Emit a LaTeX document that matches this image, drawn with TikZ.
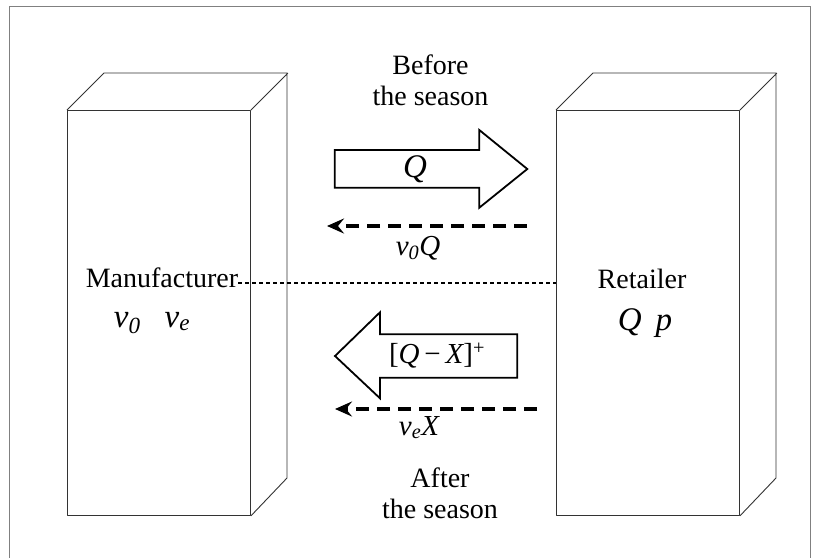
\documentclass[tikz,border=0pt]{standalone}
\usepackage{fontspec}
\setmainfont{Liberation Serif}
\usetikzlibrary{arrows.meta}
\begin{document}
\begin{tikzpicture}[x=1pt,y=-1pt,
  box/.style={draw=black!80,line width=0.9pt,line join=round},
  face/.style={box,minimum width=183,minimum height=405,anchor=north west,inner sep=0pt},
  bigarrow/.style={draw,line width=1.8pt,fill=white,line join=miter},
  payflow/.style={line width=4pt,dash pattern=on 13pt off 8pt,-{Stealth[length=17pt,width=15pt,inset=6pt]}},
  lab/.style={font=\fontsize{28}{31}\selectfont,inner sep=0pt},
  var/.style={font=\fontsize{33}{36}\selectfont\itshape,inner sep=0pt},
  flowlab/.style={font=\fontsize{29}{32}\selectfont\itshape,inner sep=0pt}]
\useasboundingbox (0,0) rectangle (821,558);
\draw[gray,line width=1pt] (9.5,558) -- (9.5,6) -- (810.5,6) -- (810.5,558);
% the two firms
\node[face] (manbox) at (67,110) {};
\node[face] (retbox) at (556,110) {};
\foreach \b in {manbox,retbox}{
  \draw[box] (\b.north west) -- ++(37,-37) -- ++(183,0) -- ++(0,405) -- (\b.south east) (\b.north east) -- ++(37,-37);}
\node[lab,anchor=base] (mfr) at (162,287) {Manufacturer};
\node[var,anchor=base] (mvars) at (152,327) {v\textsubscript{0}\hspace{24pt}v\textsubscript{e}};
\node[lab,anchor=base] (ret) at (642,288) {Retailer};
\node[var,anchor=base] (rvars) at (645,330) {Q\hspace{14pt}p};
\draw[line width=1.4pt,dash pattern=on 4pt off 3pt] ([yshift=4pt]mfr.base east) -- ([yshift=4pt]mfr.base east -| retbox.west);
% before the season
\node[lab,align=center,anchor=base] (before) at (430.5,105.5) {Before\\the season};
\draw[bigarrow] (334.7,150) -- (479.3,150) -- (479.3,130) -- (527.3,169) -- (479.3,207.7) -- (479.3,187.7) -- (334.7,187.7) -- cycle;
\node[var] (qflow) at (415,169) {Q};
\coordinate (payA) at (527,226); \coordinate (payB) at (327,226);
\draw[payflow] (payA) -- (payB);
\node[flowlab,anchor=base] (pay0) at (418,255) {v\textsubscript{0}Q};
% after the season
\draw[bigarrow] (335,356) -- (380,312.3) -- (380,334.3) -- (517.3,334.3) -- (517.3,377.7) -- (380,377.7) -- (380,398.3) -- cycle;
\node[flowlab] (back) at (437,356) {\upshape[\itshape Q\,\upshape−\,\itshape X\upshape]\textsuperscript{+}};
\coordinate (payC) at (537,409); \coordinate (payD) at (335,409);
\draw[payflow] (payC) -- (payD);
\node[flowlab,anchor=base] (paye) at (419,435) {v\textsubscript{e}X};
\node[lab,align=center,anchor=base] (after) at (440,518) {After\\the season};
\end{tikzpicture}
\end{document}
